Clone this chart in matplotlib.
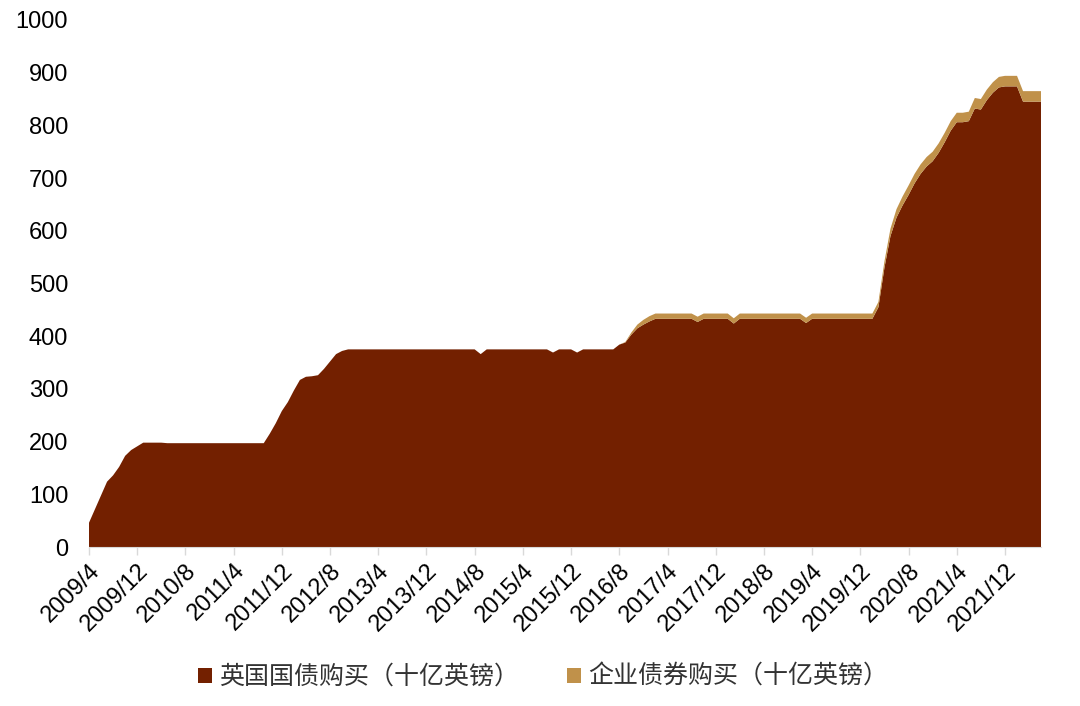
import numpy as np
import matplotlib
matplotlib.use('Agg')
from matplotlib import pyplot as plt

# monthly, 2009/4 .. 2022/6 (billion GBP)
gilt = [46, 72, 98, 124, 136, 152, 173, 184, 191, 198,
        198, 198, 198, 197, 197, 197, 197, 197, 197, 197,
        197, 197, 197, 197, 197, 197, 197, 197, 197, 197,
        215, 235, 258, 275, 297, 317, 323, 324, 326, 338,
        352, 366, 372, 375, 375, 375, 375, 375, 375, 375,
        375, 375, 375, 375, 375, 375, 375, 375, 375, 375,
        375, 375, 375, 375, 375, 366, 375, 375, 375, 375,
        375, 375, 375, 375, 375, 375, 375, 369, 375, 375,
        375, 369, 375, 375, 375, 375, 375, 375, 384, 388,
        403, 415, 422, 428, 433, 433, 433, 433, 433, 433,
        433, 427, 433, 433, 433, 433, 433, 424, 433, 433,
        433, 433, 433, 433, 433, 433, 433, 433, 433, 425,
        433, 433, 433, 433, 433, 433, 433, 433, 433, 433,
        433, 455, 530, 590, 625, 648, 668, 690, 708, 722,
        732, 748, 768, 790, 806, 806, 808, 832, 830, 848,
        862, 872, 874, 874, 874, 845, 845, 845, 845]

corp = [0] * 89 + [1, 4, 7, 9, 10] + [10] * 38 + \
       [12, 14, 16, 17] + [18] * 11 + [20] * 12

labels = ['英国国债购买（十亿英镑）', '企业债券购买（十亿英镑）']
colors = ['#732000', '#C0914A']

start_year, start_month = 2009, 4

x = np.arange(len(gilt))
tick_pos = x[::8]
tick_lab = ['%d/%d' % (start_year + (start_month - 1 + i) // 12,
                       (start_month - 1 + i) % 12 + 1) for i in tick_pos]

plt.rcParams['font.family'] = ['Liberation Sans', 'Noto Sans CJK SC']

fig = plt.figure(figsize=(10.8, 7.06), dpi=100)
fig.patch.set_facecolor('w')
ax = fig.add_axes([0.0824, 0.2252, 0.8816, 0.7465])

polys = ax.stackplot(x, gilt, corp, colors=colors, linewidth=0, labels=labels)

ax.set_xlim(0, len(gilt) - 1)
ax.set_ylim(0, 1000)
ax.set_yticks(np.arange(0, 1001, 100))
ax.tick_params(axis='y', length=0, labelsize=17, pad=15)
ax.set_xticks(tick_pos)
ax.set_xticklabels(tick_lab, rotation=45, ha='right', rotation_mode='anchor')
ax.tick_params(axis='x', length=6, width=1, color='#d9d9d9', labelsize=17, pad=3)

for s in ['top', 'right', 'left']:
    ax.spines[s].set_visible(False)
ax.spines['bottom'].set_color('#d9d9d9')

leg = fig.legend(handles=polys, labels=labels, loc='center', ncol=2,
                 bbox_to_anchor=(0.503, 0.041), frameon=False,
                 prop={'family': ['Noto Sans CJK SC'], 'size': 18},
                 handlelength=0.55, handleheight=0.55, handletextpad=0.3,
                 columnspacing=1.9)
for t in leg.get_texts():
    t.set_color('#333333')

plt.savefig('out.png', dpi=100)
